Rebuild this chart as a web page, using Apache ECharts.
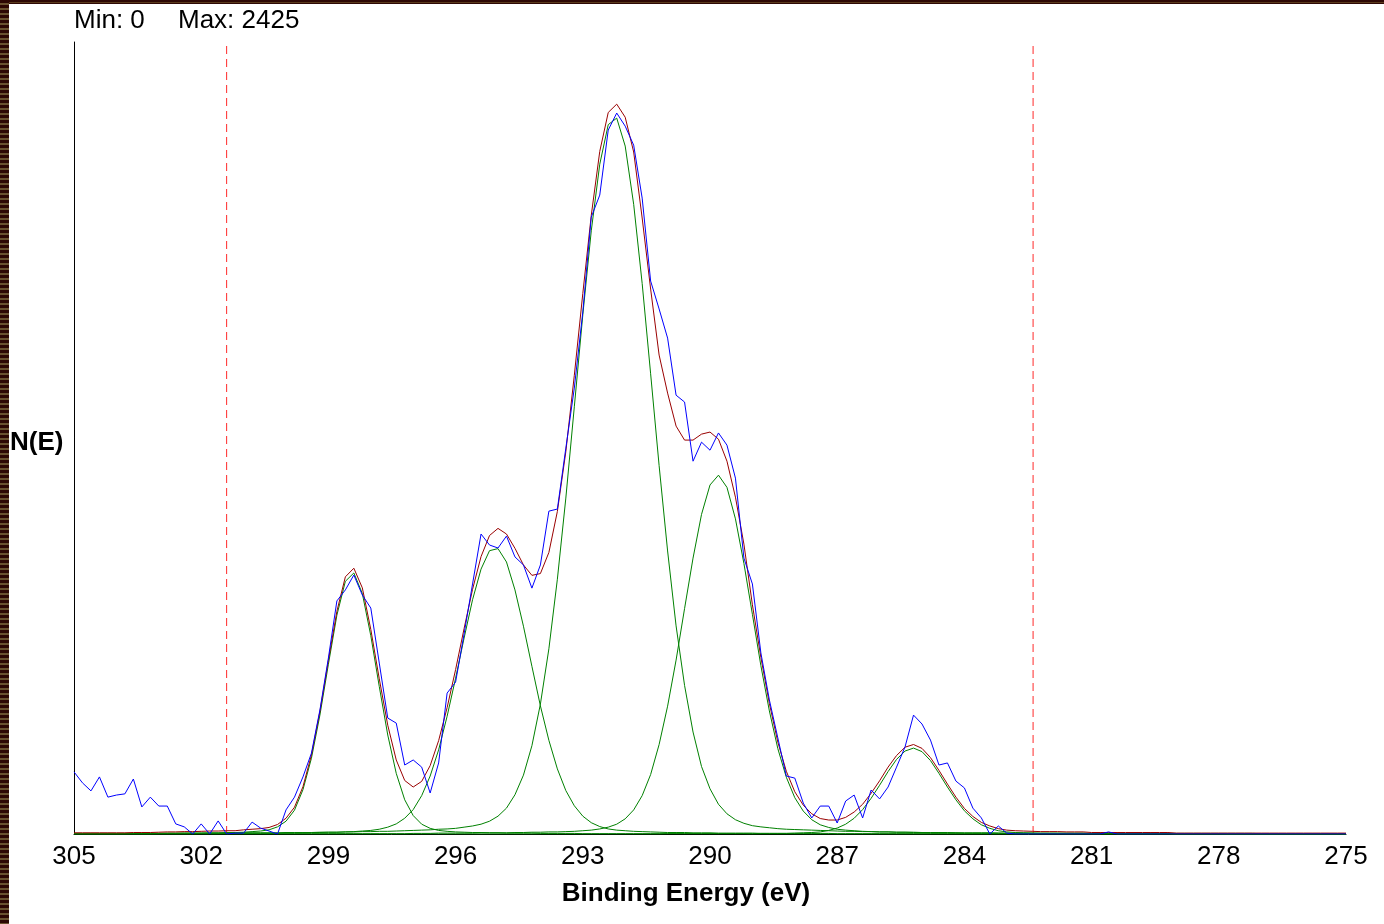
<!DOCTYPE html>
<html>
<head>
<meta charset="utf-8">
<script src="https://cdn.jsdelivr.net/npm/echarts@6/dist/echarts.min.js"></script>
<style>
  html, body { margin:0; padding:0; background:#ffffff; }
  #wrap { position:relative; width:1384px; height:924px; overflow:hidden; background:#fff; }
  #c { position:absolute; left:0; top:0; width:1384px; height:924px; }
  #bTop { position:absolute; left:0; top:0; width:1384px; height:4px;
          background:linear-gradient(to bottom,#2e0804 0,#2e0804 2px,#5a3a1c 2px,#5a3a1c 3px,#2e0804 3px); z-index:5; }
  #bLeft { position:absolute; left:0; top:0; width:9px; height:924px;
           background:repeating-linear-gradient(to bottom,#2e0804 0,#2e0804 3px,#6a5230 3px,#6a5230 5px); z-index:5; }
</style>
</head>
<body>
<div id="wrap">
  <div id="c"></div>
  <div id="bTop"></div>
  <div id="bLeft"></div>
</div>
<script>
// Binding energy grid of the measured spectrum (eV)
const ENERGY = [
305.0,304.8,304.6,304.4,304.2,304.0,303.8,303.6,303.4,303.2,
303.0,302.8,302.6,302.4,302.2,302.0,301.8,301.6,301.4,301.2,
301.0,300.8,300.6,300.4,300.2,300.0,299.8,299.6,299.4,299.2,
299.0,298.8,298.6,298.4,298.2,298.0,297.8,297.6,297.4,297.2,
297.0,296.8,296.6,296.4,296.2,296.0,295.8,295.6,295.4,295.2,
295.0,294.8,294.6,294.4,294.2,294.0,293.8,293.6,293.4,293.2,
293.0,292.8,292.6,292.4,292.2,292.0,291.8,291.6,291.4,291.2,
291.0,290.8,290.6,290.4,290.2,290.0,289.8,289.6,289.4,289.2,
289.0,288.8,288.6,288.4,288.2,288.0,287.8,287.6,287.4,287.2,
287.0,286.8,286.6,286.4,286.2,286.0,285.8,285.6,285.4,285.2,
285.0,284.8,284.6,284.4,284.2,284.0,283.8,283.6,283.4,283.2,
283.0,282.8,282.6,282.4,282.2,282.0,281.8,281.6,281.4,281.2,
281.0,280.8,280.6,280.4,280.2,280.0,279.8,279.6,279.4,279.2,
279.0,278.8,278.6,278.4,278.2,278.0,277.8,277.6,277.4,277.2,
277.0,276.8,276.6,276.4,276.2,276.0,275.8,275.6,275.4,275.2,
275.0];

// Measured counts (blue)
const MEASURED = [
209,172,145,192,124,131,135,185,91,124,
94,94,34,24,0,34,0,44,0,3,
3,40,20,10,0,81,124,192,272,417,
592,784,821,871,804,760,575,390,373,232,
249,225,138,239,474,511,673,841,1009,972,
962,1002,932,905,827,905,1086,1093,1298,1500,
1756,2075,2149,2368,2425,2381,2317,2139,1860,1766,
1668,1476,1453,1254,1318,1291,1349,1308,1197,928,
841,609,451,323,195,188,104,54,94,94,
37,111,131,54,148,118,158,225,293,400,
370,316,232,239,178,155,87,54,0,27,
3,0,0,0,0,0,0,0,0,0,
0,0,7,0,0,0,0,0,0,0,
0,0,0,0,0,0,0,0,0,0,
0,0,0,0,0,0,0,0,0,0,
0];

// Fitted envelope (dark red)
const ENVELOPE = [
4,4,4,4,4,4,4,5,5,5,
6,7,7,8,8,9,10,10,11,11,
14,16,18,22,32,53,90,159,266,412,
584,749,865,894,828,688,522,366,249,180,
158,177,230,314,425,553,691,823,933,1004,
1028,1009,961,905,870,876,947,1085,1286,1543,
1818,2081,2296,2427,2455,2411,2294,2072,1833,1611,
1483,1372,1325,1325,1345,1352,1328,1254,1133,975,
771,594,439,309,211,142,97,68,52,47,
47,56,74,100,137,179,225,264,292,301,
288,257,214,168,124,86,59,39,27,18,
13,11,10,9,8,8,8,7,7,7,
5,5,5,5,5,5,5,5,5,5,
3,3,3,3,3,3,3,3,3,3,
3,3,3,3,3,3,3,3,3,3,
3];

// Fitted components (green)
const PEAK_1 = [
1,1,1,1,1,1,1,2,2,2,
2,2,2,3,3,3,4,4,5,5,
6,8,10,14,24,43,80,149,255,400,
571,736,850,878,809,667,496,333,204,115,
62,33,19,12,9,7,6,5,5,4,
4,3,3,3,3,2,2,2,2,2,
1,1,1,1,1,1,1,1,1,1,
1,1,1,1,1,1,1,1,1,1,
0,0,0,0,0,0,0,0,0,0,
0,0,0,0,0,0,0,0,0,0,
0,0,0,0,0,0,0,0,0,0,
0,0,0,0,0,0,0,0,0,0,
0,0,0,0,0,0,0,0,0,0,
0,0,0,0,0,0,0,0,0,0,
0,0,0,0,0,0,0,0,0,0,
0];
const PEAK_2 = [
1,1,1,1,1,1,1,1,1,1,
1,1,1,1,1,2,2,2,2,2,
3,3,3,3,3,4,4,4,5,5,
6,6,7,8,10,12,16,23,34,53,
82,129,195,283,396,524,659,788,891,953,
960,915,821,699,564,431,315,219,146,95,
60,38,25,17,13,11,9,8,7,6,
5,5,5,4,4,4,3,3,3,3,
3,2,2,2,2,2,2,2,2,2,
1,1,1,1,1,1,1,1,1,1,
1,1,1,1,1,1,1,1,1,1,
1,1,1,1,1,1,1,1,1,1,
1,1,1,1,1,1,1,1,1,1,
0,0,0,0,0,0,0,0,0,0,
0,0,0,0,0,0,0,0,0,0,
0];
const PEAK_3 = [
2,2,2,2,2,2,2,2,2,2,
2,3,3,3,3,3,3,3,3,3,
4,4,4,4,4,5,5,5,5,6,
6,6,7,7,8,8,9,9,10,11,
12,13,14,16,17,19,23,27,33,43,
60,87,132,198,297,437,623,857,1130,1437,
1746,2029,2253,2386,2408,2314,2118,1852,1548,1239,
952,700,500,343,227,152,100,68,48,36,
28,24,21,18,16,15,14,13,12,11,
10,9,9,8,8,7,7,6,6,6,
5,5,5,5,4,4,4,4,4,3,
3,3,3,3,3,3,3,3,3,3,
2,2,2,2,2,2,2,2,2,2,
2,2,2,2,2,2,2,2,2,2,
1,1,1,1,1,1,1,1,1,1,
1];
const PEAK_4 = [
0,0,0,0,0,0,0,0,0,0,
1,1,1,1,1,1,1,1,1,1,
1,1,1,1,1,1,1,1,1,1,
1,1,1,1,1,1,1,1,1,1,
2,2,2,3,3,3,3,3,4,4,
4,4,5,5,6,6,7,7,8,9,
11,13,17,23,33,51,81,129,200,301,
430,585,758,928,1075,1174,1207,1166,1060,910,
739,566,414,287,191,122,77,48,31,22,
16,13,11,9,8,7,7,6,6,5,
5,4,4,4,4,3,3,3,3,3,
2,2,2,2,2,2,2,2,2,2,
1,1,1,1,1,1,1,1,1,1,
0,0,0,0,0,0,0,0,0,0,
0,0,0,0,0,0,0,0,0,0,
0];
const PEAK_5 = [
0,0,0,0,0,0,0,0,0,0,
0,0,0,0,0,0,0,0,0,0,
0,0,0,0,0,0,0,0,0,0,
0,0,0,0,0,0,0,0,0,0,
0,0,0,0,0,0,0,0,0,0,
0,0,0,0,0,0,0,0,0,0,
0,0,0,0,0,0,0,0,0,0,
1,1,1,1,1,1,1,1,1,1,
1,2,2,2,2,3,4,5,7,12,
20,33,53,82,120,164,210,251,279,289,
277,247,204,158,115,78,51,31,19,11,
7,5,4,3,2,2,2,1,1,1,
1,1,1,1,1,1,1,1,1,1,
1,1,1,1,1,1,0,0,0,0,
0,0,0,0,0,0,0,0,0,0,
0];

const X_TICKS = [305, 302, 299, 296, 293, 290, 287, 284, 281, 278, 275];
const FIT_LIMITS = [301.4, 282.38];
const Y_MAX = 2664;
const Y_MIN_TEXT = 'Min: 0';
const Y_MAX_TEXT = 'Max: 2425';
const X_TITLE = 'Binding Energy (eV)';
const Y_TITLE = 'N(E)';

const FONT = '"Liberation Sans", Arial, Helvetica, sans-serif';

function pairs(vals) { return ENERGY.map((e, i) => [e, vals[i]]); }

function lineSeries(name, vals, color, extra) {
  return Object.assign({
    name: name, type: 'line', data: pairs(vals),
    showSymbol: false, symbol: 'none', silent: true,
    lineStyle: { color: color, width: 1 },
    animation: false
  }, extra || {});
}

function limitSeries(e, k) {
  return {
    name: 'Limit ' + (k + 1), type: 'line', silent: true, showSymbol: false, symbol: 'none',
    data: [[e, 0], [e, Y_MAX]], z: 1,
    lineStyle: { color: '#ff2a2a', width: 1, type: [8, 5] },
    animation: false
  };
}

const chart = echarts.init(document.getElementById('c'), null, { renderer: 'canvas' });
chart.setOption({
  animation: false,
  backgroundColor: 'transparent',
  grid: { left: 74, right: 38, top: 42, bottom: 90, outerBoundsMode: 'none' },
  xAxis: {
    type: 'value', min: 275, max: 305, inverse: true,
    axisLine: { show: true, onZero: false, lineStyle: { color: '#000', width: 1 } },
    axisTick: { show: false },
    splitLine: { show: false },
    axisLabel: { customValues: X_TICKS, fontSize: 26, color: '#000', margin: 10, fontFamily: FONT }
  },
  yAxis: {
    type: 'value', min: 0, max: Y_MAX,
    axisLine: { show: true, lineStyle: { color: '#000', width: 1 } },
    axisTick: { show: false }, axisLabel: { show: false }, splitLine: { show: false }
  },
  graphic: [
    { type: 'text', x: 74, y: 21, style: { text: Y_MIN_TEXT, font: '26px ' + FONT, fill: '#000', verticalAlign: 'middle' } },
    { type: 'text', x: 178, y: 21, style: { text: Y_MAX_TEXT, font: '26px ' + FONT, fill: '#000', verticalAlign: 'middle' } },
    { type: 'text', x: 10, y: 443, style: { text: Y_TITLE, font: 'bold 26px ' + FONT, fill: '#000', verticalAlign: 'middle' } },
    { type: 'text', x: 686, y: 894, style: { text: X_TITLE, font: 'bold 26px ' + FONT, fill: '#000', align: 'center', verticalAlign: 'middle' } }
  ],
  series: FIT_LIMITS.map(limitSeries).concat([
    lineSeries('Peak 1', PEAK_1, '#008000'),
    lineSeries('Peak 2', PEAK_2, '#008000'),
    lineSeries('Peak 3', PEAK_3, '#008000'),
    lineSeries('Peak 4', PEAK_4, '#008000'),
    lineSeries('Peak 5', PEAK_5, '#008000'),
    lineSeries('Envelope', ENVELOPE, '#990000'),
    lineSeries('Measured', MEASURED, '#0000ff')
  ])
});
</script>
</body>
</html>
